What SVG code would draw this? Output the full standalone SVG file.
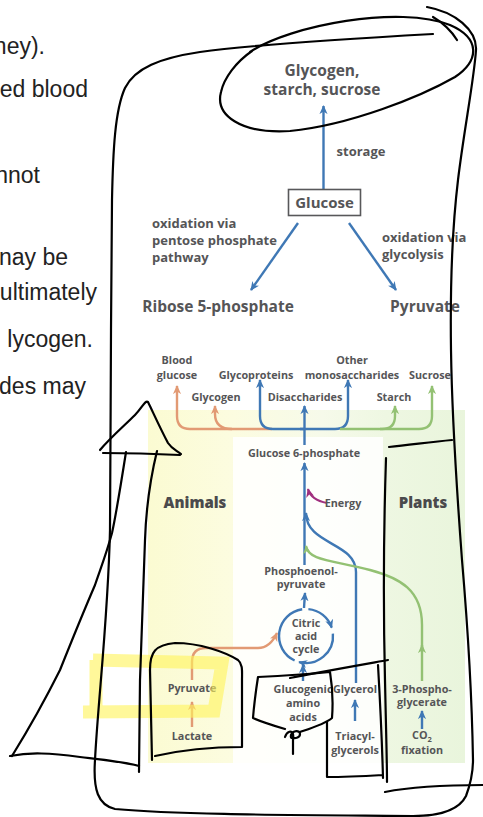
<svg xmlns="http://www.w3.org/2000/svg" width="483" height="817" viewBox="0 0 483 817">
<defs>
<style>
.lt{font-family:"Liberation Sans",Arial,sans-serif;font-size:23px;fill:#222;text-anchor:end}
.t{font-family:"Open Sans","Noto Sans",sans-serif;font-weight:700;fill:#555557;text-anchor:middle}
.ts{font-size:10.8px}
.tm{font-size:13px}
.tb{font-size:15.5px}
.tr{font-size:15px;font-weight:800;fill:#4a4a4c}
.bl{fill:none;stroke:#3f78b5;stroke-width:2.4}
.or{fill:none;stroke:#e29a74;stroke-width:2.4}
.gr{fill:none;stroke:#93c173;stroke-width:2.4}
.hand{fill:none;stroke:#000;stroke-width:2.2;stroke-linecap:round;stroke-linejoin:round}
</style>
<marker id="ab" viewBox="0 0 10 10" refX="9" refY="5" markerWidth="9" markerHeight="9" orient="auto" markerUnits="userSpaceOnUse"><path d="M0,0.5 L10,5 L0,9.5 L3,5 z" fill="#3f78b5"/></marker>
<marker id="ao" viewBox="0 0 10 10" refX="9" refY="5" markerWidth="9" markerHeight="9" orient="auto" markerUnits="userSpaceOnUse"><path d="M0,0.5 L10,5 L0,9.5 L3,5 z" fill="#e29a74"/></marker>
<marker id="ag" viewBox="0 0 10 10" refX="9" refY="5" markerWidth="9" markerHeight="9" orient="auto" markerUnits="userSpaceOnUse"><path d="M0,0.5 L10,5 L0,9.5 L3,5 z" fill="#93c173"/></marker>
<marker id="am" viewBox="0 0 10 10" refX="9" refY="5" markerWidth="9" markerHeight="9" orient="auto" markerUnits="userSpaceOnUse"><path d="M0,0.5 L10,5 L0,9.5 L3,5 z" fill="#a0307f"/></marker>
<linearGradient id="bg" x1="0" y1="0" x2="1" y2="0">
<stop offset="0" stop-color="#fbfbd2"/>
<stop offset="0.27" stop-color="#fcfce0"/>
<stop offset="0.55" stop-color="#f6faea"/>
<stop offset="0.75" stop-color="#eef7e2"/>
<stop offset="1" stop-color="#e9f5dc"/>
</linearGradient>
</defs>
<rect width="483" height="817" fill="#fff"/>

<g id="page-text">
<text class="lt" x="45" y="54">ney).</text>
<text class="lt" x="88" y="97">ed blood</text>
<text class="lt" x="40" y="183">nnot</text>
<text class="lt" x="68" y="265">nay be</text>
<text class="lt" x="97" y="300">ultimately</text>
<text class="lt" x="93" y="347">lycogen.</text>
<text class="lt" x="86" y="394">des may</text>
</g>

<g id="panel-bg">
<rect x="148" y="410" width="317" height="353" fill="url(#bg)"/>
<rect x="233" y="437" width="150" height="326" fill="#fff" opacity="0.85"/>
</g>

<g id="connectors">
<path class="bl" d="M323.5,189 L323.5,106" marker-end="url(#ab)"/>
<path class="bl" d="M298,223 L251,290" marker-end="url(#ab)"/>
<path class="bl" d="M349,223 L396,290" marker-end="url(#ab)"/>
<path class="or" d="M272,429 L190,429 Q177,429 177,416 L177,386" marker-end="url(#ao)"/>
<path class="or" d="M232,429 Q215,429 215,414 L215,406" marker-end="url(#ao)"/>
<path class="bl" d="M305,429 L273,429 Q260,429 260,416 L260,380" marker-end="url(#ab)"/>
<path class="bl" d="M300,429 L335,429 Q348,429 348,416 L348,380" marker-end="url(#ab)"/>
<path class="bl" d="M304.5,445 L304.5,406" marker-end="url(#ab)"/>
<path class="gr" d="M340,429 L382,429 Q395,429 395,416 L395,406" marker-end="url(#ag)"/>
<path class="gr" d="M380,429 L419,429 Q432,429 432,416 L432,386" marker-end="url(#ag)"/>
<path class="bl" d="M304.5,565 L304.5,463" marker-end="url(#ab)"/>
<path d="M327,503 Q311,500 308,489" fill="none" stroke="#a0307f" stroke-width="2.2" marker-end="url(#am)"/>
<path class="bl" d="M356,683 L356,572 C356,542 306,545 306,513" marker-end="url(#ab)"/>
<path class="gr" d="M422,681 L422,645" marker-end="url(#ag)"/>
<path class="gr" d="M422,650 L422,625 C422,590 400,578 370,570 C330,560 308,560 306,546" marker-end="url(#ag)"/>
<path class="bl" d="M304,608 L305,593" marker-end="url(#ab)"/>
<path class="bl" d="M308.4,609.1 A27,27 0 0 1 331.7,627.7" marker-end="url(#ab)"/>
<path class="bl" d="M332.9,633.6 A27,27 0 0 1 299,662.1" marker-end="url(#ab)"/>
<path class="bl" d="M294.6,660.5 A27,27 0 0 1 302.2,609.3"/>
<path class="or" d="M192,680 L192,662 Q192,648 206,648 L258,648 Q270,648 277,633" marker-end="url(#ao)"/>
<path class="or" d="M192,727 L192,702" marker-end="url(#ao)"/>
<path class="bl" d="M303,681 L303,665" marker-end="url(#ab)"/>
<path class="bl" d="M355,721 L355,700" marker-end="url(#ab)"/>
<path class="bl" d="M422,729 L422,711" marker-end="url(#ab)"/>
</g>

<g id="n-storage-products">
<text class="t tb" x="322" y="76">Glycogen,</text>
<text class="t tb" x="322" y="95">starch, sucrose</text>
</g>
<g id="l-storage"><text class="t tm" x="361" y="156">storage</text></g>
<g id="n-glucose">
<rect x="288.5" y="189.5" width="72" height="26" fill="#fff" stroke="#58585a" stroke-width="1.6"/>
<text class="t" style="font-size:15px" x="324.5" y="207.5">Glucose</text>
</g>
<g id="l-pentose">
<text class="t tm" x="152" y="227.5" style="text-anchor:start">oxidation via</text>
<text class="t tm" x="152" y="244.5" style="text-anchor:start">pentose phosphate</text>
<text class="t tm" x="152" y="261.5" style="text-anchor:start">pathway</text>
</g>
<g id="l-glycolysis">
<text class="t tm" x="382" y="241.5" style="text-anchor:start">oxidation via</text>
<text class="t tm" x="382" y="258.5" style="text-anchor:start">glycolysis</text>
</g>
<g id="n-ribose"><text class="t tb" x="218" y="312">Ribose 5-phosphate</text></g>
<g id="n-pyruvate-top"><text class="t tb" x="425" y="312">Pyruvate</text></g>

<g id="n-blood-glucose"><text class="t ts" x="177" y="364">Blood</text><text class="t ts" x="177" y="379">glucose</text></g>
<g id="n-glycoproteins"><text class="t ts" x="256" y="379">Glycoproteins</text></g>
<g id="n-other-mono"><text class="t ts" x="352" y="364">Other</text><text class="t ts" x="352" y="379">monosaccharides</text></g>
<g id="n-sucrose"><text class="t ts" x="430" y="379">Sucrose</text></g>
<g id="n-glycogen"><text class="t ts" x="216" y="401">Glycogen</text></g>
<g id="n-disaccharides"><text class="t ts" x="305" y="401">Disaccharides</text></g>
<g id="n-starch"><text class="t ts" x="394" y="401">Starch</text></g>
<g id="n-g6p"><text class="t ts" x="304" y="457">Glucose 6-phosphate</text></g>
<g id="l-animals"><text class="t tr" x="195" y="508">Animals</text></g>
<g id="l-plants"><text class="t tr" x="423" y="508">Plants</text></g>
<g id="l-energy"><text class="t ts" x="343" y="507">Energy</text></g>
<g id="n-pep"><text class="t ts" x="301" y="575">Phosphoenol-</text><text class="t ts" x="301" y="588">pyruvate</text></g>
<g id="n-citric"><text class="t ts" x="306" y="627">Citric</text><text class="t ts" x="306" y="640">acid</text><text class="t ts" x="306" y="653">cycle</text></g>
<g id="n-pyruvate-low"><text class="t ts" x="192" y="692">Pyruvate</text></g>
<g id="n-lactate"><text class="t ts" x="192" y="740">Lactate</text></g>
<g id="n-amino"><text class="t ts" x="303" y="693">Glucogenic</text><text class="t ts" x="303" y="707">amino</text><text class="t ts" x="303" y="721">acids</text></g>
<g id="n-glycerol"><text class="t ts" x="355" y="693">Glycerol</text></g>
<g id="n-triacyl"><text class="t ts" x="355" y="740">Triacyl-</text><text class="t ts" x="355" y="754">glycerols</text></g>
<g id="n-3pg"><text class="t ts" x="422" y="693">3-Phospho-</text><text class="t ts" x="422" y="706">glycerate</text></g>
<g id="n-co2"><text class="t ts" x="422" y="739">CO<tspan font-size="7.5" dy="2.5">2</tspan></text><text class="t ts" x="422" y="754">fixation</text></g>

<g id="highlight">
<path d="M93,660 L222,663 L214,711 L83,712 M96,660 L96,706" fill="none" stroke="#fff45c" stroke-width="13" stroke-opacity="0.62" stroke-linejoin="miter"/>
</g>

<g id="annotations">
<path class="hand" d="M433,34 C380,37 250,45 200,52 C160,58 135,68 125,88 C115,110 113,150 112,200 L111,330 C111,400 110,450 110,530 C108,620 98,700 95,760 C93,790 98,805 115,809 C180,815 300,815 413,816 C445,816 460,808 466,796 C472,780 473,765 473,760 C472,700 468,630 462,560 C456,480 452,420 451,350 C450,280 452,230 458,180 C464,130 474,80 476,50 C477,30 455,12 427,7"/>
<path class="hand" d="M250,52 C290,25 400,5 450,25 C480,38 480,60 455,77 C420,97 350,125 290,131 C240,134 215,115 221,92 C224,78 236,62 252,51"/>
<path class="hand" d="M433,17 C445,24 452,32 457,40"/>
<path class="hand" d="M100,450 C110,438 125,425 135,415 C142,408 145,400 148,402 C152,410 160,428 168,443 C172,449 176,450 181,454"/>
<path class="hand" d="M103,453 C130,453 160,454 180,455"/>
<path class="hand" d="M126,452 C120,490 116,515 112,533 C106,555 100,570 95,585 C80,620 70,645 60,670 C40,710 25,735 12,756"/>
<path class="hand" d="M10,756 C30,752 50,753 80,757 C105,760 125,762 139,766"/>
<path class="hand" d="M157,451 C150,480 146,510 145,540 C143,600 141,640 140,680 L139,772"/>
<path class="hand" d="M152,760 L150,670 C150,652 155,645 175,643 C200,643 225,652 238,660 C243,664 242,672 242,680 L242,747 C220,747 190,748 155,756"/>
<path class="hand" d="M258,677 C280,676 310,674 330,672 C333,690 333,705 332,718 C325,724 312,728 300,732 M258,677 C256,690 254,705 253,718 C262,722 275,726 285,729"/>
<path class="hand" d="M290,678 C320,672 360,665 388,660"/>
<path class="hand" d="M285,737 C287,731 292,730 293,734 C294,738 290,740 291,735 C293,730 300,730 300,734 C300,738 294,739 293,737 L293,754"/>
<path class="hand" d="M327,722 L327,777 C345,777 365,776 383,775 M378,665 C380,700 382,740 383,778"/>
<path class="hand" d="M389,447 C410,445 430,442 452,440"/>
<path class="hand" d="M386,458 C384,520 383,600 385,680 C386,730 387,760 387,782"/>
<path class="hand" d="M385,792 C405,788 440,785 483,785"/>
</g>
</svg>
